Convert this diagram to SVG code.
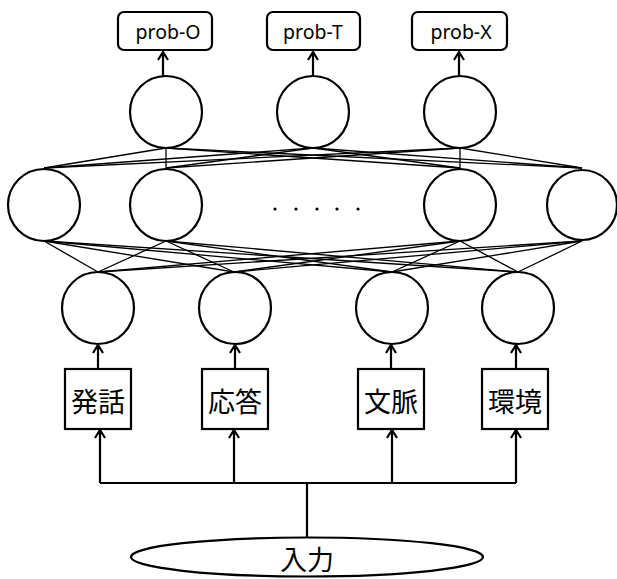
<svg xmlns="http://www.w3.org/2000/svg" width="617" height="579" viewBox="0 0 617 579">
<style>
.n{fill:#fff;stroke:#000;stroke-width:2.2}
.w{stroke:#000;stroke-width:1.3;fill:none}
.a{stroke:#000;stroke-width:2.2;fill:none}
.t{font-family:"Noto Sans CJK JP","Noto Sans",sans-serif;fill:#000;text-anchor:middle;dominant-baseline:central}
.lat{font-size:19.5px;font-family:"Noto Sans","Noto Sans CJK JP",sans-serif}
.jp{font-size:27px}
</style>
<defs>
<marker id="arr" viewBox="0 0 14 14" refX="12" refY="7" markerWidth="14" markerHeight="14" markerUnits="userSpaceOnUse" orient="auto">
<polyline points="4,2 12,7 4,12" fill="none" stroke="#000" stroke-width="2.2"/>
</marker>
</defs>
<g id="connectors">
<g id="weights-top">
<line class="w" x1="166" y1="148" x2="44" y2="168"/><line class="w" x1="166" y1="148" x2="166" y2="168"/><line class="w" x1="166" y1="148" x2="460" y2="168"/><line class="w" x1="166" y1="148" x2="582" y2="168"/>
<line class="w" x1="313" y1="148" x2="44" y2="168"/><line class="w" x1="313" y1="148" x2="166" y2="168"/><line class="w" x1="313" y1="148" x2="460" y2="168"/><line class="w" x1="313" y1="148" x2="582" y2="168"/>
<line class="w" x1="460" y1="148" x2="44" y2="168"/><line class="w" x1="460" y1="148" x2="166" y2="168"/><line class="w" x1="460" y1="148" x2="460" y2="168"/><line class="w" x1="460" y1="148" x2="582" y2="168"/>
</g>
<g id="weights-bottom">
<line class="w" x1="44" y1="241" x2="98" y2="272"/><line class="w" x1="44" y1="241" x2="234" y2="272"/><line class="w" x1="44" y1="241" x2="392" y2="272"/><line class="w" x1="44" y1="241" x2="518" y2="272"/>
<line class="w" x1="166" y1="241" x2="98" y2="272"/><line class="w" x1="166" y1="241" x2="234" y2="272"/><line class="w" x1="166" y1="241" x2="392" y2="272"/><line class="w" x1="166" y1="241" x2="518" y2="272"/>
<line class="w" x1="460" y1="241" x2="98" y2="272"/><line class="w" x1="460" y1="241" x2="234" y2="272"/><line class="w" x1="460" y1="241" x2="392" y2="272"/><line class="w" x1="460" y1="241" x2="518" y2="272"/>
<line class="w" x1="582" y1="241" x2="98" y2="272"/><line class="w" x1="582" y1="241" x2="234" y2="272"/><line class="w" x1="582" y1="241" x2="392" y2="272"/><line class="w" x1="582" y1="241" x2="518" y2="272"/>
</g>
<g id="arrows-out">
<line class="a" x1="163" y1="76" x2="163" y2="52" marker-end="url(#arr)"/>
<line class="a" x1="313" y1="76" x2="313" y2="52" marker-end="url(#arr)"/>
<line class="a" x1="459" y1="76" x2="459" y2="52" marker-end="url(#arr)"/>
</g>
<g id="arrows-feat">
<line class="a" x1="98" y1="369" x2="98" y2="345" marker-end="url(#arr)"/>
<line class="a" x1="235" y1="369" x2="235" y2="345" marker-end="url(#arr)"/>
<line class="a" x1="391" y1="369" x2="391" y2="345" marker-end="url(#arr)"/>
<line class="a" x1="516" y1="369" x2="516" y2="345" marker-end="url(#arr)"/>
</g>
<g id="arrows-in">
<polyline class="a" points="100,483 516,483"/>
<line class="a" x1="307" y1="483" x2="307" y2="538"/>
<line class="a" x1="100" y1="483" x2="100" y2="430" marker-end="url(#arr)"/>
<line class="a" x1="234" y1="483" x2="234" y2="430" marker-end="url(#arr)"/>
<line class="a" x1="392" y1="483" x2="392" y2="430" marker-end="url(#arr)"/>
<line class="a" x1="516" y1="483" x2="516" y2="430" marker-end="url(#arr)"/>
</g>
</g>
<g id="out-O"><rect class="n" x="118" y="12" width="94" height="38" rx="6"/><text class="t lat" x="168" y="31">prob-O</text></g>
<g id="out-T"><rect class="n" x="267" y="12" width="93" height="38" rx="6"/><text class="t lat" x="313" y="31">prob-T</text></g>
<g id="out-X"><rect class="n" x="412" y="12" width="95" height="38" rx="6"/><text class="t lat" x="461" y="31">prob-X</text></g>
<g id="o1"><circle class="n" cx="166" cy="112" r="36"/></g>
<g id="o2"><circle class="n" cx="313" cy="112" r="36"/></g>
<g id="o3"><circle class="n" cx="460" cy="112" r="36"/></g>
<g id="h1"><circle class="n" cx="44" cy="205" r="36"/></g>
<g id="h2"><circle class="n" cx="166" cy="205" r="36"/></g>
<g id="h3"><circle class="n" cx="460" cy="205" r="36"/></g>
<g id="h4"><circle class="n" cx="582" cy="205" r="35"/></g>
<g id="dots">
<circle cx="275" cy="209" r="1.6"/><circle cx="296" cy="209" r="1.6"/><circle cx="317" cy="209" r="1.6"/><circle cx="337" cy="209" r="1.6"/><circle cx="358" cy="209" r="1.6"/>
</g>
<g id="i1"><circle class="n" cx="98" cy="308" r="36"/></g>
<g id="i2"><circle class="n" cx="235" cy="308" r="36"/></g>
<g id="i3"><circle class="n" cx="392" cy="308" r="36"/></g>
<g id="i4"><circle class="n" cx="518" cy="308" r="36"/></g>
<g id="f1"><rect class="n" x="65" y="369" width="66" height="60"/><text class="t jp" x="98" y="400">発話</text></g>
<g id="f2"><rect class="n" x="202" y="369" width="66" height="60"/><text class="t jp" x="235" y="400">応答</text></g>
<g id="f3"><rect class="n" x="358" y="369" width="66" height="60"/><text class="t jp" x="391" y="400">文脈</text></g>
<g id="f4"><rect class="n" x="482" y="369" width="66" height="60"/><text class="t jp" x="515" y="400">環境</text></g>
<g id="input"><ellipse class="n" cx="307" cy="557" rx="176" ry="19.5"/><text class="t jp" x="307" y="558">入力</text></g>
</svg>
